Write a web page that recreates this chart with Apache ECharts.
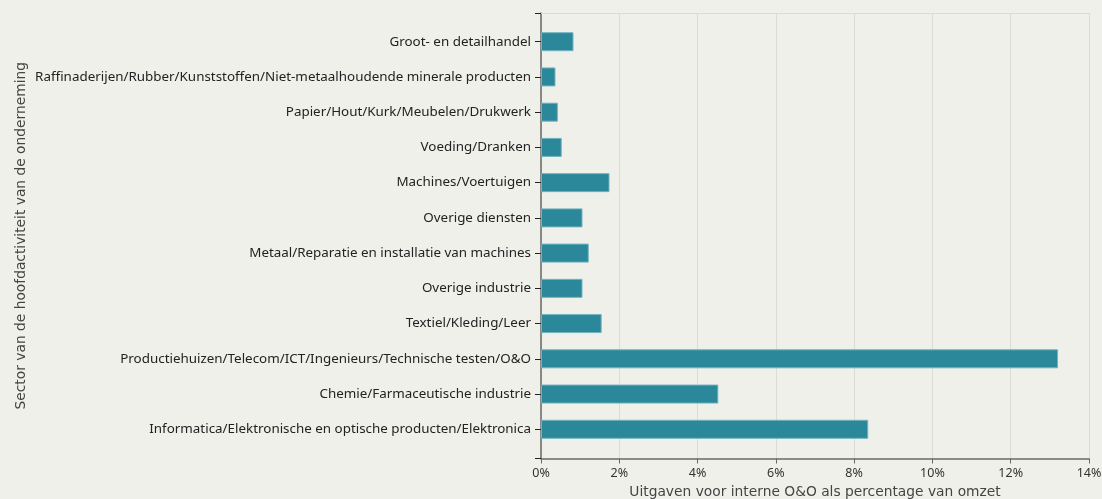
<!DOCTYPE html>
<html><head><meta charset="utf-8">
<script src="https://cdn.jsdelivr.net/npm/echarts@6/dist/echarts.min.js"></script>
<style>html,body{margin:0;padding:0;background:#f0f0eb}#c{width:1102px;height:499px}</style>
</head><body><div id="c"></div>
<script>
const categories = [
  'Groot- en detailhandel',
  'Raffinaderijen/Rubber/Kunststoffen/Niet-metaalhoudende minerale producten',
  'Papier/Hout/Kurk/Meubelen/Drukwerk',
  'Voeding/Dranken',
  'Machines/Voertuigen',
  'Overige diensten',
  'Metaal/Reparatie en installatie van machines',
  'Overige industrie',
  'Textiel/Kleding/Leer',
  'Productiehuizen/Telecom/ICT/Ingenieurs/Technische testen/O&O',
  'Chemie/Farmaceutische industrie',
  'Informatica/Elektronische en optische producten/Elektronica'
];
const values = [0.83, 0.37, 0.43, 0.53, 1.75, 1.06, 1.22, 1.06, 1.55, 13.21, 4.53, 8.36];
const xMin = 0, xMax = 14, xInterval = 2;
const xName = 'Uitgaven voor interne O&O als percentage van omzet';
const yName = 'Sector van de hoofdactiviteit van de onderneming';

const font = '"Noto Sans", sans-serif';
const titleFont = '"DejaVu Sans", sans-serif';
const axisColor = '#686868';
const lightGrid = '#dcdcd6';
const chart = echarts.init(document.getElementById('c'));
chart.setOption({
  backgroundColor: '#f0f0eb',
  animation: false,
  grid: [
    {left: 541, right: 13, top: 13, bottom: 40.5, outerBoundsMode: 'none', containLabel: false},
    {left: 541, right: 13, top: 24.1, bottom: 52.1, outerBoundsMode: 'none', containLabel: false}
  ],
  xAxis: [
    {
      gridIndex: 0, type: 'value', position: 'bottom', min: xMin, max: xMax, interval: xInterval,
      axisLine: {show: true, onZero: false, lineStyle: {color: axisColor, width: 1.5}},
      axisTick: {show: true, length: 5, lineStyle: {color: axisColor, width: 1}},
      axisLabel: {formatter: '{value}%', color: '#333', fontFamily: font, fontSize: 12.5, margin: 8},
      splitLine: {show: true, showMinLine: true, showMaxLine: true, lineStyle: {color: lightGrid, width: 1}},
      name: xName, nameLocation: 'middle', nameGap: 27,
      nameTextStyle: {color: '#444', fontFamily: titleFont, fontSize: 13.8}
    },
    {
      gridIndex: 1, type: 'value', min: xMin, max: xMax, show: false
    },
    {
      gridIndex: 0, type: 'value', min: xMin, max: xMax, position: 'top',
      axisLine: {show: true, onZero: false, lineStyle: {color: lightGrid, width: 1}},
      axisTick: {show: false}, axisLabel: {show: false}, splitLine: {show: false}
    }
  ],
  yAxis: [
    {
      gridIndex: 0, type: 'value', position: 'left', min: 0, max: 1, interval: 1, inverse: true,
      axisLine: {show: true, onZero: false, lineStyle: {color: axisColor, width: 1.5}},
      axisTick: {show: true, length: 6, lineStyle: {color: '#222', width: 1}},
      axisLabel: {show: false}, splitLine: {show: false},
      name: yName, nameLocation: 'middle', nameGap: 513,
      nameTextStyle: {color: '#444', fontFamily: titleFont, fontSize: 13.8}
    },
    {
      gridIndex: 1, type: 'category', position: 'left', data: categories, inverse: true,
      axisLine: {show: false, onZero: false},
      axisTick: {show: true, alignWithLabel: true, length: 6, lineStyle: {color: '#222', width: 1}},
      axisLabel: {color: '#222', fontFamily: font, fontSize: 13.4, margin: 10},
      splitLine: {show: false}
    }
  ],
  series: [{
    type: 'bar', xAxisIndex: 1, yAxisIndex: 1, data: values, barWidth: 19,
    itemStyle: {color: '#2a889a', borderColor: '#72b3bf', borderWidth: 1}
  }]
});
</script></body></html>
